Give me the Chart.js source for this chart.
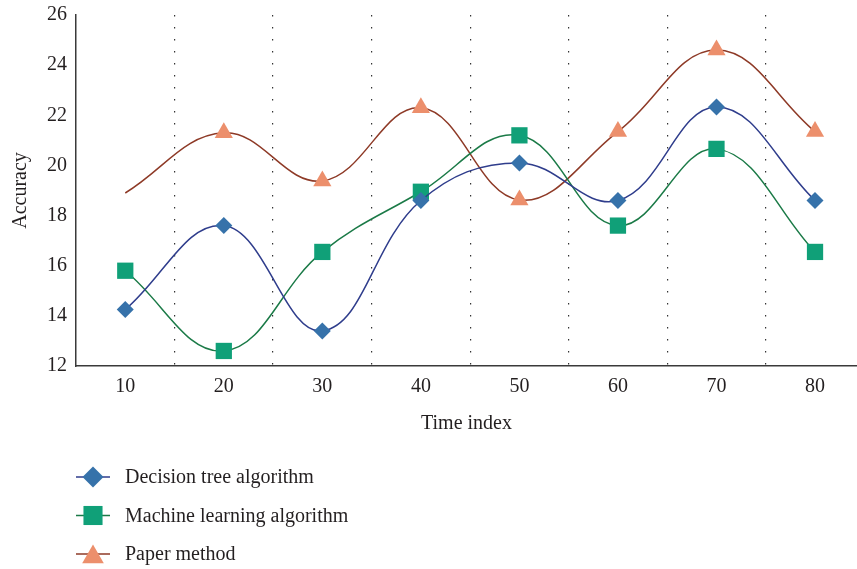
<!DOCTYPE html>
<html>
<head>
<meta charset="utf-8">
<script src="https://cdn.jsdelivr.net/npm/chart.js@4/dist/chart.umd.min.js"></script>
<style>
  html, body { margin: 0; padding: 0; background: #fff; overflow: hidden; }
  #wrap { width: 857px; height: 569px; }
</style>
</head>
<body>
<div id="wrap"><canvas id="c" width="857" height="569"></canvas></div>
<script>
// values
const timeIndex = [10, 20, 30, 40, 50, 60, 70, 80]
const decisionTree = [14.25, 17.6, 13.4, 18.6, 20.1, 18.6, 22.33, 18.6]
const machineLearning = [15.8, 12.6, 16.55, 18.95, 21.2, 17.6, 20.66, 16.55]
const paperMethod = [18.9, 21.3, 19.38, 22.3, 18.62, 21.35, 24.6, 21.35]
const yTicks = [12, 14, 16, 18, 20, 22, 24, 26]
const gridAt = [15, 25, 35, 45, 55, 65, 75]

const serif = "'Liberation Serif', 'DejaVu Serif', serif"

function pts(ys) {
    return ys.map((y, i) => ({x: timeIndex[i], y: y}))
}

const series = [
    {label: 'Decision tree algorithm', data: pts(decisionTree), line: '#2f3d8c', fill: '#3672aa',
     style: 'rectRot', r: 8.5, legendR: 10.5},
    {label: 'Machine learning algorithm', data: pts(machineLearning), line: '#1b7a47', fill: '#10a078',
     style: 'rect', r: 11.5, legendR: 13.5},
    {label: 'Paper method', data: pts(paperMethod), line: '#8e3a27', fill: '#ec8f6c',
     style: 'triangle', r: 10.5, legendR: 12.5}
]

// legend drawn below the plot, one row per series
const legendRows = {
    id: 'legendRows',
    afterDraw(chart) {
        const ctx = chart.ctx
        const x0 = chart.chartArea.left
        series.forEach((s, i) => {
            const y = 477 + i * 38.5
            ctx.save()
            ctx.strokeStyle = s.line
            ctx.lineWidth = 1.5
            ctx.beginPath()
            ctx.moveTo(x0, y)
            ctx.lineTo(x0 + 34, y)
            ctx.stroke()
            ctx.fillStyle = s.fill
            ctx.strokeStyle = s.fill
            Chart.helpers.drawPoint(ctx, {pointStyle: s.style, radius: s.legendR, rotation: 0, borderWidth: 0}, x0 + 17, y + (s.style === 'triangle' ? 3 : 0))
            ctx.fillStyle = '#231f20'
            ctx.font = '20px ' + serif
            ctx.textAlign = 'left'
            ctx.textBaseline = 'middle'
            ctx.fillText(s.label, x0 + 49, y + 1)
            ctx.restore()
        })
    }
}

const chart = new Chart(document.getElementById('c'), {
    type: 'line',
    data: {
        datasets: series.map(s => ({
            label: s.label,
            data: s.data,
            borderColor: s.line,
            borderWidth: 1.5,
            backgroundColor: s.fill,
            pointBackgroundColor: s.fill,
            pointBorderColor: s.fill,
            pointBorderWidth: 0,
            pointStyle: s.style,
            pointRadius: (c) => (s.style === 'triangle' && c.dataIndex === 0) ? 0 : s.r,
            pointHoverRadius: s.r,
            tension: 0.4,
            fill: false
        }))
    },
    options: {
        responsive: false,
        animation: false,
        layout: {autoPadding: false, padding: {top: 15, right: 0, left: 0, bottom: 123}},
        plugins: {
            legend: {display: false},
            tooltip: {enabled: false}
        },
        scales: {
            x: {
                type: 'linear',
                position: 'bottom',
                min: 5,
                max: 84.26,
                afterBuildTicks: (s) => { s.ticks = timeIndex.map(v => ({value: v})) },
                afterFit: (s) => { s.height = 80; s.paddingLeft = 0; s.paddingRight = 0 },
                grid: {display: false, drawTicks: false},
                border: {display: true, color: '#3a3a3a', width: 1.5},
                ticks: {padding: 9, color: '#231f20', font: {family: serif, size: 20}},
                title: {display: true, text: 'Time index', color: '#231f20', padding: {top: 4, bottom: 10},
                        font: {family: serif, size: 20}}
            },
            xg: {
                type: 'linear',
                position: 'bottom',
                min: 5,
                max: 84.26,
                afterBuildTicks: (s) => { s.ticks = gridAt.map(v => ({value: v})) },
                afterFit: (s) => { s.height = 0; s.paddingLeft = 0; s.paddingRight = 0 },
                grid: {display: true, drawTicks: false, color: '#333', lineWidth: 1.2},
                border: {display: false, dash: [1.5, 10.5]},
                ticks: {display: false}
            },
            y: {
                min: 12,
                max: 26,
                afterBuildTicks: (s) => { s.ticks = yTicks.map(v => ({value: v})) },
                afterFit: (s) => { s.width = 76; s.paddingTop = 0; s.paddingBottom = 0 },
                grid: {display: false, drawTicks: false},
                border: {display: true, color: '#3a3a3a', width: 1.5},
                ticks: {padding: 9, color: '#231f20', font: {family: serif, size: 20}},
                title: {display: true, text: 'Accuracy', color: '#231f20', padding: {top: 9, bottom: 0},
                        font: {family: serif, size: 20}}
            }
        }
    },
    plugins: [legendRows]
})
</script>
</body>
</html>
